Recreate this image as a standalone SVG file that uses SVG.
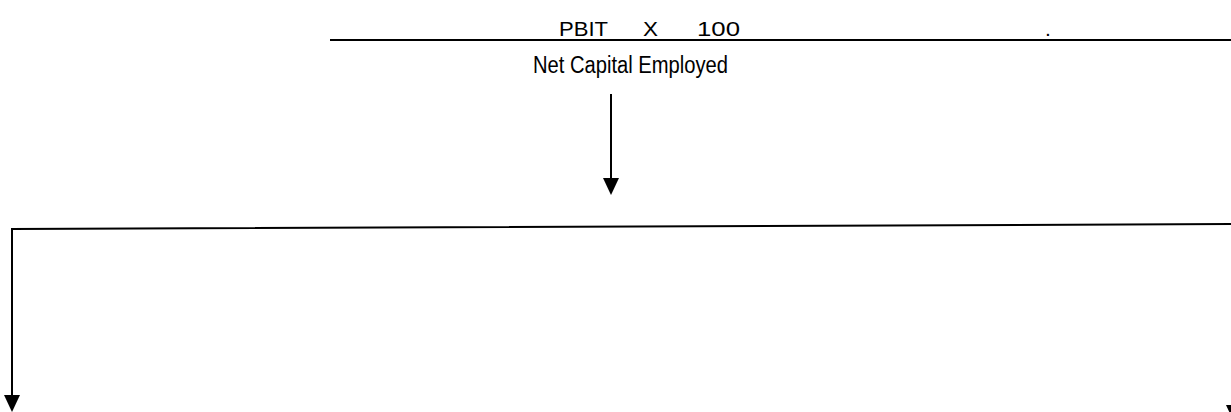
<svg xmlns="http://www.w3.org/2000/svg" width="1231" height="412" viewBox="0 0 1231 412">
<style>
.t{font-family:"Liberation Sans","DejaVu Sans",sans-serif;fill:#000}
.ln{stroke:#000;stroke-width:2;fill:none}
</style>
<rect width="1231" height="412" fill="#fff"/>
<g id="formula">
<text class="t" x="559" y="36" font-size="21" textLength="49" lengthAdjust="spacingAndGlyphs">PBIT</text>
<text class="t" x="643" y="36" font-size="21" textLength="15" lengthAdjust="spacingAndGlyphs">X</text>
<text class="t" x="697" y="36" font-size="21" textLength="43" lengthAdjust="spacingAndGlyphs">100</text>
<text class="t" x="1045" y="36" font-size="21">.</text>
<text class="t" x="533" y="73" font-size="23" textLength="195" lengthAdjust="spacingAndGlyphs">Net Capital Employed</text>
</g>
<g id="connectors">
<line class="ln" x1="330" y1="40" x2="1231" y2="40"/>
<line class="ln" x1="611" y1="94" x2="611" y2="178"/>
<path d="M603,178 L619,178 L611,195 Z" fill="#000"/>
<polyline class="ln" points="12,395 12,229 1234,224 1234,405"/>
<path d="M4,395 L20,395 L12,412 Z" fill="#000"/>
<path d="M1226,405 L1242,405 L1234,422 Z" fill="#000"/>
</g>
</svg>
